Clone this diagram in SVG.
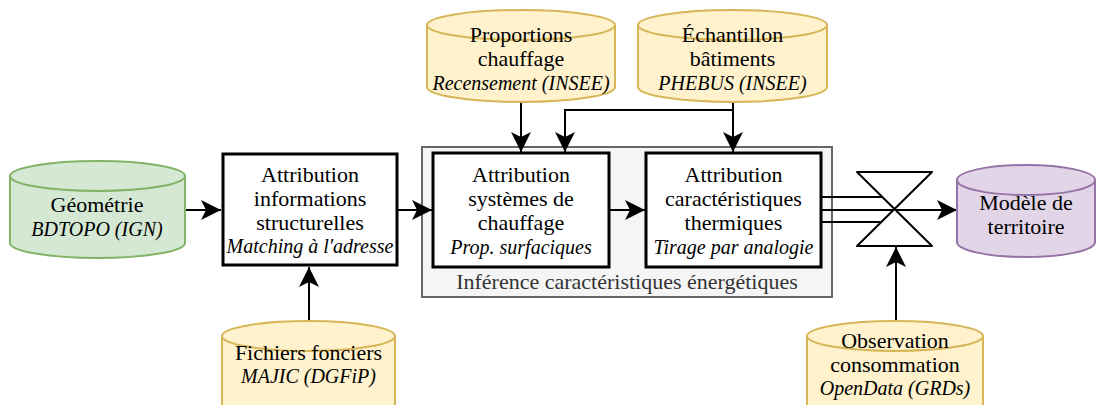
<svg xmlns="http://www.w3.org/2000/svg" width="1100" height="405" viewBox="0 0 1100 405">
<style>
  text { font-family: "Liberation Serif", "Times New Roman", serif; fill: #000; text-anchor: middle; }
  .t { font-size: 22px; }
  .i { font-size: 20px; font-style: italic; }
  .box { fill: #ffffff; stroke: #000; stroke-width: 3; }
  .yel { fill: #fff2cc; stroke: #d6b656; stroke-width: 2; }
  .grn { fill: #d5e8d4; stroke: #82b366; stroke-width: 2; }
  .pur { fill: #e1d5e7; stroke: #9673a6; stroke-width: 2; }
  .cap { fill: none; }
  .edge { fill: none; stroke: #000; stroke-width: 2; }
  .arr { marker-end: url(#ah); }
</style>
<defs>
  <marker id="ah" markerUnits="userSpaceOnUse" markerWidth="20" markerHeight="20" viewBox="0 0 20 20" refX="20" refY="10" orient="auto">
    <path d="M20,10 L0,0 L5,10 L0,20 Z" fill="#000"/>
  </marker>
</defs>

<g id="group-inference">
  <rect x="422" y="147" width="410" height="150" fill="#f5f5f5" stroke="#666666" stroke-width="2"/>
  <text class="t" x="627" y="289" style="fill:#333333">Inférence caractéristiques énergétiques</text>
</g>

<g id="connectors">
  <path class="edge arr" d="M185,210 H221"/>
  <path class="edge arr" d="M397,210 H432"/>
  <path class="edge arr" d="M609,210 H645"/>
  <path class="edge arr" d="M521,102 V152"/>
  <path class="edge arr" d="M733,102 V152"/>
  <path class="edge arr" d="M733,110 H565 V152"/>
  <path class="edge arr" d="M309,321 V267"/>
  <path class="edge" d="M821,197 H882"/>
  <path class="edge" d="M821,222 H882"/>
  <path class="edge arr" d="M821,210 H957"/>
  <path class="edge arr" d="M896,321 V247"/>
</g>

<g id="node-geometrie">
  <path class="grn" d="M10,176 A87.5,15 0 0 1 185,176 V243 A87.5,15 0 0 1 10,243 Z"/>
  <path class="grn cap" d="M10,176 A87.5,15 0 0 0 185,176"/>
  <text class="t" x="97" y="212">Géométrie</text>
  <text class="i" x="97" y="236">BDTOPO (IGN)</text>
</g>

<g id="node-attrib-struct">
  <rect class="box" x="223" y="154" width="174" height="111"/>
  <text class="t" x="310" y="182">Attribution</text>
  <text class="t" x="310" y="206">informations</text>
  <text class="t" x="310" y="230">structurelles</text>
  <text class="i" x="310" y="253">Matching à l'adresse</text>
</g>

<g id="node-attrib-chauffage">
  <rect class="box" x="433" y="153" width="176" height="114"/>
  <text class="t" x="521" y="182">Attribution</text>
  <text class="t" x="521" y="206">systèmes de</text>
  <text class="t" x="521" y="230">chauffage</text>
  <text class="i" x="521" y="254">Prop. surfaciques</text>
</g>

<g id="node-attrib-thermique">
  <rect class="box" x="646" y="153" width="175" height="114"/>
  <text class="t" x="733.5" y="182">Attribution</text>
  <text class="t" x="733.5" y="206">caractéristiques</text>
  <text class="t" x="733.5" y="230">thermiques</text>
  <text class="i" x="733.5" y="254">Tirage par analogie</text>
</g>

<g id="node-proportions">
  <path class="yel" d="M427,25 A94,15 0 0 1 615,25 V87 A94,15 0 0 1 427,87 Z"/>
  <path class="yel cap" d="M427,25 A94,15 0 0 0 615,25"/>
  <text class="t" x="521" y="42">Proportions</text>
  <text class="t" x="521" y="66">chauffage</text>
  <text class="i" x="521" y="90">Recensement (INSEE)</text>
</g>

<g id="node-echantillon">
  <path class="yel" d="M638,25 A94.5,15 0 0 1 827,25 V87 A94.5,15 0 0 1 638,87 Z"/>
  <path class="yel cap" d="M638,25 A94.5,15 0 0 0 827,25"/>
  <text class="t" x="732.5" y="42">Échantillon</text>
  <text class="t" x="732.5" y="66">bâtiments</text>
  <text class="i" x="732.5" y="90">PHEBUS (INSEE)</text>
</g>

<g id="node-fichiers">
  <path class="yel" d="M222,336 A86.5,15 0 0 1 395,336 V410 A86.5,15 0 0 1 222,410 Z"/>
  <path class="yel cap" d="M222,336 A86.5,15 0 0 0 395,336"/>
  <text class="t" x="308.5" y="360">Fichiers fonciers</text>
  <text class="i" x="308.5" y="383">MAJIC (DGFiP)</text>
</g>

<g id="node-observation">
  <path class="yel" d="M807,336 A88,15 0 0 1 983,336 V412 A88,15 0 0 1 807,412 Z"/>
  <path class="yel cap" d="M807,336 A88,15 0 0 0 983,336"/>
  <text class="t" x="895" y="348">Observation</text>
  <text class="t" x="895" y="372">consommation</text>
  <text class="i" x="895" y="395">OpenData (GRDs)</text>
</g>

<g id="node-collate">
  <path d="M857,172 L932,172 L857,246 L932,246 Z" fill="#ffffff" stroke="#000" stroke-width="2" stroke-linejoin="round"/>
</g>

<g id="node-modele">
  <path class="pur" d="M957,180 A69,15 0 0 1 1095,180 V242 A69,15 0 0 1 957,242 Z"/>
  <path class="pur cap" d="M957,180 A69,15 0 0 0 1095,180"/>
  <text class="t" x="1026" y="210">Modèle de</text>
  <text class="t" x="1026" y="234">territoire</text>
</g>
</svg>
